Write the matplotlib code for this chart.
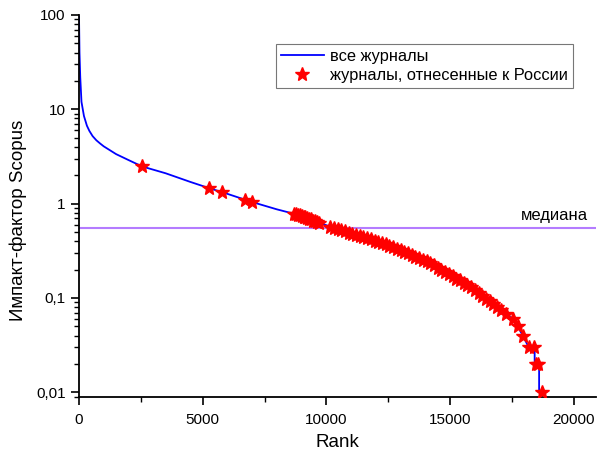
import matplotlib
matplotlib.use('Agg')
import matplotlib.pyplot as plt
from matplotlib.ticker import FixedLocator, FixedFormatter, LogLocator, MultipleLocator, NullFormatter

plt.rcParams['font.family'] = ['Liberation Sans', 'DejaVu Sans']

# all journals: rank vs Scopus impact factor (sorted)
all_rank = [1, 20, 50, 100, 200, 320, 420, 550, 700, 850, 1000, 1500, 2000,
            2550, 3500, 4500, 5260, 6000, 7000, 8000, 8700, 9000, 9700, 10160,
            11000, 12000, 13000, 14000, 14600, 15400, 16000, 16300, 17000,
            17530, 17730, 17940, 18180, 18420, 18420, 18600, 18600, 18720]
all_if = [95, 40, 22, 12, 8.5, 6.7, 5.9, 5.2, 4.7, 4.35, 4.05, 3.35, 2.9,
          2.48, 2.1, 1.7, 1.46, 1.27, 1.04, 0.87, 0.78, 0.74, 0.63, 0.57,
          0.48, 0.40, 0.32, 0.25, 0.205, 0.155, 0.122, 0.105, 0.077,
          0.060, 0.050, 0.040, 0.030, 0.030, 0.020, 0.020, 0.010, 0.010]

# journals assigned to Russia
ru_rank = [2550, 5260, 5790, 6720, 7000,
           8700, 8780, 8850, 8920, 9000, 9080, 9150, 9230, 9300, 9380, 9450,
           9530, 9620, 9700,
           10160, 10300, 10450, 10600, 10750, 10900, 11050, 11200, 11350,
           11500, 11650, 11800, 11950, 12100, 12250, 12400, 12550, 12700,
           12850, 13000, 13150, 13300, 13450, 13600, 13750, 13900, 14050,
           14200, 14350, 14500, 14650, 14800, 14950, 15100, 15250, 15400,
           15550, 15700, 15850, 16000, 16150, 16300, 16450, 16600, 16750,
           16900, 17050, 17250, 17530, 17730, 17940, 18180, 18380, 18480,
           18540, 18700]
ru_if = [2.48, 1.46, 1.32, 1.10, 1.04,
         0.78, 0.77, 0.76, 0.75, 0.74, 0.73, 0.72, 0.70, 0.69, 0.68, 0.66,
         0.65, 0.64, 0.63,
         0.57, 0.555, 0.54, 0.525, 0.51, 0.49, 0.475, 0.46, 0.45,
         0.44, 0.43, 0.42, 0.405, 0.39, 0.38, 0.37, 0.355, 0.345,
         0.33, 0.32, 0.31, 0.30, 0.285, 0.275, 0.265, 0.255, 0.245,
         0.235, 0.225, 0.21, 0.20, 0.19, 0.18, 0.17, 0.16, 0.155,
         0.145, 0.138, 0.13, 0.122, 0.114, 0.105, 0.098, 0.092, 0.086,
         0.080, 0.075, 0.068, 0.060, 0.050, 0.040, 0.030, 0.030, 0.020,
         0.020, 0.010]

median_if = 0.557
y_ticks = [0.01, 0.1, 1, 10, 100]
y_tick_labels = ['0,01', '0,1', '1', '10', '100']

fig = plt.figure(figsize=(5.97, 4.54), dpi=100)
ax = fig.add_axes([79 / 597, 57.3 / 454, (596 - 79) / 597, (396.7 - 15) / 454])

ax.plot(all_rank, all_if, color='#0000ff', lw=1.3, label='все журналы', zorder=2)
ax.plot(ru_rank, ru_if, ls='none', marker='*', color='#ff0000', ms=10,
        label='журналы, отнесенные к России', zorder=3)
ax.axhline(median_if, color='#b47cff', lw=1.5, zorder=1)
ax.text(0.985, median_if * 1.12, 'медиана', transform=ax.get_yaxis_transform(),
        ha='right', va='bottom', fontsize=12)

ax.set_yscale('log')
ax.set_ylim(0.00898, 100)
ax.set_xlim(0, 20900)

ax.yaxis.set_major_locator(FixedLocator(y_ticks))
ax.yaxis.set_major_formatter(FixedFormatter(y_tick_labels))
ax.yaxis.set_minor_locator(LogLocator(base=10, subs=range(2, 10)))
ax.yaxis.set_minor_formatter(NullFormatter())
ax.xaxis.set_major_locator(MultipleLocator(5000))
ax.xaxis.set_minor_locator(MultipleLocator(2500))

for s in ['top', 'right']:
    ax.spines[s].set_visible(False)
for s in ['left', 'bottom']:
    ax.spines[s].set_linewidth(1.3)
ax.tick_params(which='major', direction='out', length=6, width=1.2, labelsize=11)
ax.tick_params(axis='x', which='major', pad=6)
ax.tick_params(which='minor', direction='out', length=3.5, width=1.0)

ax.set_xlabel('Rank', fontsize=13.5, labelpad=5)
ax.set_ylabel('Импакт-фактор Scopus', fontsize=13.5)
ax.yaxis.set_label_coords(-0.100, 0.463)

leg = ax.legend(loc='upper left', bbox_to_anchor=((276 - 79) / 517, (396.7 - 44) / 381.7),
                fontsize=11.8, frameon=True, fancybox=False, handlelength=2.6,
                borderpad=0.3, labelspacing=0.25, handletextpad=0.4, borderaxespad=0)
leg.get_frame().set_edgecolor('#555555')
leg.get_frame().set_linewidth(0.8)

plt.savefig('out.png', dpi=100)
